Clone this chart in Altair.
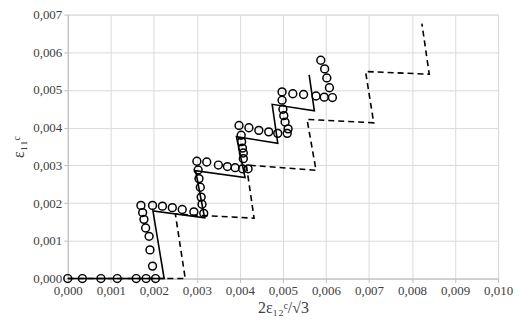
import altair as alt
import pandas as pd

# Experimental points (open circles)
circ_x = [0.0, 0.00034, 0.00077, 0.00115, 0.00159, 0.00182, 0.00204,
          0.00197, 0.00191, 0.00189, 0.00181, 0.00177, 0.00174, 0.00170,
          0.00197, 0.00220, 0.00243, 0.00266, 0.00293, 0.00316,
          0.00312, 0.00310, 0.00308, 0.00305, 0.00303, 0.00300,
          0.00323, 0.00350, 0.00371, 0.00389, 0.00406, 0.00419,
          0.00408, 0.00408, 0.00406, 0.00404, 0.00403, 0.00398,
          0.00421, 0.00444, 0.00467, 0.00488, 0.00510,
          0.00512, 0.00505, 0.00502, 0.00500, 0.00498, 0.00498,
          0.00523, 0.00548, 0.00577, 0.00596, 0.00615,
          0.00608, 0.00602, 0.00597, 0.00588]
circ_y = [0.0, 0.0, 0.0, 0.0, 0.0, 0.0, 0.0,
          0.00033, 0.00076, 0.00112, 0.00134, 0.00157, 0.00175, 0.00194,
          0.00194, 0.00192, 0.00188, 0.00183, 0.00177, 0.00173,
          0.00197, 0.00216, 0.00242, 0.00265, 0.00288, 0.00311,
          0.00309, 0.00301, 0.00297, 0.00294, 0.00291, 0.00291,
          0.00318, 0.00333, 0.00346, 0.00363, 0.00380, 0.00406,
          0.00400, 0.00393, 0.00389, 0.00385, 0.00385,
          0.00397, 0.00415, 0.00432, 0.00449, 0.00473, 0.00495,
          0.00490, 0.00488, 0.00484, 0.00481, 0.00480,
          0.00506, 0.00532, 0.00556, 0.00579]

# Solid model curve
solid_x = [0.0, 0.00224, 0.00198, 0.00318, 0.00297, 0.00412, 0.00392,
           0.00488, 0.00475, 0.00573, 0.00561]
solid_y = [0.0, 0.0, 0.00179, 0.00161, 0.00286, 0.00268, 0.00376,
           0.00359, 0.00462, 0.00445, 0.00540]

# Dashed model curve
dash_x = [0.0, 0.00273, 0.00250, 0.00433, 0.00415, 0.00577, 0.00556,
          0.00711, 0.00692, 0.00840, 0.00823]
dash_y = [0.0, 0.0, 0.00171, 0.00160, 0.00301, 0.00287, 0.00422,
          0.00413, 0.00549, 0.00542, 0.00676]

x_ticks = [i / 1000 for i in range(0, 11)]
y_ticks = [i / 1000 for i in range(0, 8)]

circ = pd.DataFrame({"x": circ_x, "y": circ_y})
solid = pd.DataFrame({"x": solid_x, "y": solid_y, "i": range(len(solid_x))})
dash = pd.DataFrame({"x": dash_x, "y": dash_y, "i": range(len(dash_x))})

FONT = "Liberation Serif"
lab = "replace(format(datum.value, '.3f'), '.', ',')"

common = dict(grid=True, gridColor="#d9d9d9", domainColor="#bfbfbf",
              tickColor="#bfbfbf", tickSize=4, labelFlush=False,
              labelOverlap=False, labelFont=FONT, labelFontSize=13,
              labelColor="#404040", titleFont=FONT, titleFontSize=16,
              titleFontWeight="normal", titleColor="#404040")

xs = alt.X("x:Q", scale=alt.Scale(domain=[0, 0.010], nice=False),
           axis=alt.Axis(values=x_ticks, labelExpr=lab, title="2ε₁₂ᶜ/√3",
                         titlePadding=2, **common))
ys = alt.Y("y:Q", scale=alt.Scale(domain=[0, 0.007], nice=False),
           axis=alt.Axis(values=y_ticks, labelExpr=lab, title="ε₁₁ᶜ",
                         titlePadding=6, **common))

solid_line = alt.Chart(solid).mark_line(color="black", strokeWidth=1.6).encode(
    x=xs, y=ys, order="i:Q")
dash_line = alt.Chart(dash).mark_line(color="black", strokeWidth=1.6,
                                      strokeDash=[6, 4]).encode(
    x=xs, y=ys, order="i:Q")
points = alt.Chart(circ).mark_point(shape="circle", filled=False, color="black",
                                    size=62, strokeWidth=1.5, opacity=1).encode(
    x=xs, y=ys)

chart = alt.layer(dash_line, solid_line, points).properties(
    width=432, height=265,
    autosize=alt.AutoSizeParams(type="none"),
    padding={"left": 60, "top": 6, "right": 20, "bottom": 40},
).configure_view(stroke=None).configure(background="white")

chart.save("out.html", embed_options={"renderer": "svg", "actions": False})
